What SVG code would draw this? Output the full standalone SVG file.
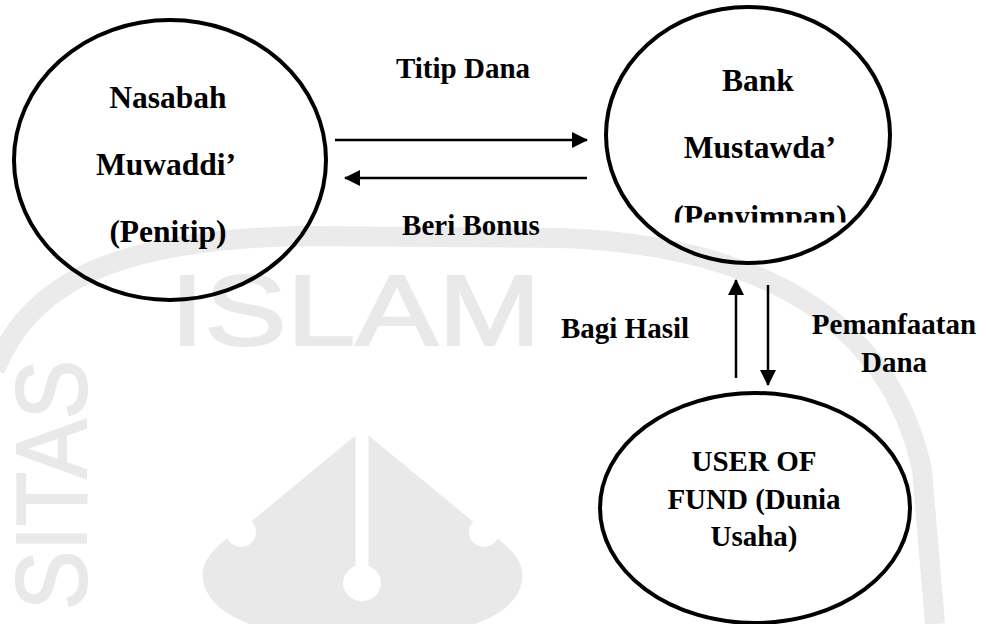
<svg xmlns="http://www.w3.org/2000/svg" width="986" height="624" viewBox="0 0 986 624">
<style>
.node{fill:none;stroke:#000;stroke-width:4}
.lbl{font-family:"Liberation Serif","Times New Roman",serif;font-weight:bold;font-size:29px;fill:#000;text-anchor:middle}
.big{font-size:31.5px}
.conn{stroke:#000;stroke-width:2.5;fill:none}
.wm{fill:#e9e9e9}
.wmt{font-family:"Liberation Sans",Arial,sans-serif;font-weight:normal;font-size:100px;fill:#e9e9e9;stroke:#e9e9e9;stroke-width:2}
</style>
<defs>
<marker id="ah" markerUnits="userSpaceOnUse" markerWidth="18" markerHeight="18" refX="15" refY="8" orient="auto">
<path d="M0,0 L16,8 L0,16 Z" fill="#000"/>
</marker>
<clipPath id="clipPeny"><rect x="600" y="180" width="300" height="42.5"/></clipPath>
</defs>
<rect width="986" height="624" fill="#fff"/>
<g id="watermark">
<path d="M-5,370 C30,280 120,240 300,236 L560,238 C760,245 890,320 922,470 L935,624" fill="none" stroke="#ebebeb" stroke-width="20"/>
<text class="wmt" x="170" y="345" textLength="371" lengthAdjust="spacingAndGlyphs">ISLAM</text>
<text class="wmt" font-size="88" transform="translate(86,610) rotate(-90)" textLength="250" lengthAdjust="spacingAndGlyphs">SITAS</text>
<path class="wm" d="M362,430 L253,520 C215,545 200,560 203,580 C206,600 225,615 250,624 L475,624 C500,615 520,600 522,580 C525,560 510,545 471,520 Z"/>
<circle cx="241" cy="532" r="15" fill="#fff"/>
<circle cx="484" cy="532" r="15" fill="#fff"/>
<line x1="362" y1="425" x2="362" y2="575" stroke="#fff" stroke-width="13"/>
<ellipse cx="362" cy="583" rx="19" ry="18" fill="#fff"/>
</g>
<g id="connectors">
<line class="conn" x1="335" y1="140" x2="587" y2="140" marker-end="url(#ah)"/>
<line class="conn" x1="587" y1="178" x2="345" y2="178" marker-end="url(#ah)"/>
<line class="conn" x1="736" y1="378" x2="736" y2="280" marker-end="url(#ah)"/>
<line class="conn" x1="768" y1="285" x2="768" y2="385" marker-end="url(#ah)"/>
<text class="lbl" x="463" y="78">Titip Dana</text>
<text class="lbl" x="471" y="235">Beri Bonus</text>
<text class="lbl" x="625" y="338">Bagi Hasil</text>
<text class="lbl" x="894" y="334">Pemanfaatan</text>
<text class="lbl" x="894" y="372">Dana</text>
</g>
<g id="node-nasabah">
<ellipse class="node" cx="170" cy="160" rx="156" ry="140"/>
<text class="lbl big" x="168" y="108">Nasabah</text>
<text class="lbl big" x="166" y="175">Muwaddi’</text>
<text class="lbl big" x="168" y="242">(Penitip)</text>
</g>
<g id="node-bank">
<ellipse class="node" cx="748" cy="135" rx="142" ry="128"/>
<text class="lbl big" x="758" y="91">Bank</text>
<text class="lbl big" x="760" y="158">Mustawda’</text>
<text class="lbl big" x="760" y="227" clip-path="url(#clipPeny)">(Penyimpan)</text>
</g>
<g id="node-user">
<ellipse class="node" cx="755" cy="508" rx="155" ry="115"/>
<text class="lbl" x="754" y="471">USER OF</text>
<text class="lbl" x="754" y="509">FUND (Dunia</text>
<text class="lbl" x="754" y="546">Usaha)</text>
</g>
</svg>
